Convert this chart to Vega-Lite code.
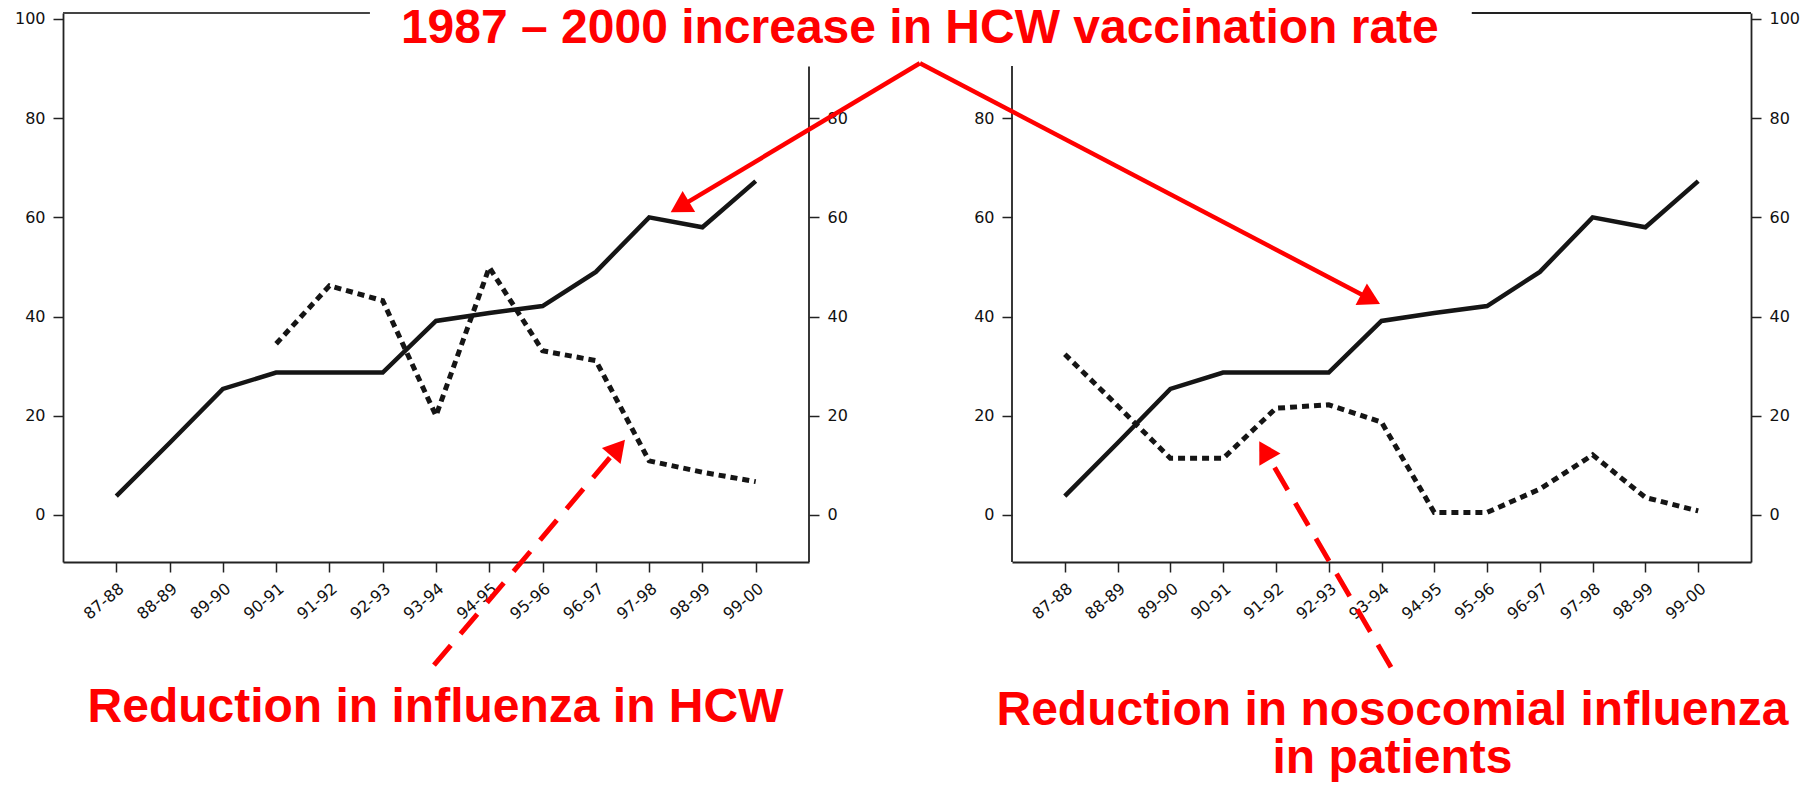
{
  "$schema": "https://vega.github.io/schema/vega-lite/v6.json",
  "background": "white",
  "padding": {"left": 14, "top": 5, "right": 0, "bottom": 0},
  "bounds": "flush",
  "spacing": 203,
  "config": {
    "view": {"stroke": null},
    "axis": {
      "grid": false,
      "labelFont": "DejaVu Sans",
      "labelFontSize": 16,
      "labelColor": "#111111",
      "domainColor": "#222222",
      "domainWidth": 1.8,
      "tickColor": "#222222",
      "tickWidth": 1.5,
      "tickSize": 10,
      "labelPadding": 8
    }
  },
  "datasets": {
    "seasons": [
      {"i": 0, "season": "87-88", "vacc": 3.8, "hcw": null, "pat": 32.4},
      {"i": 1, "season": "88-89", "vacc": 14.5, "hcw": null, "pat": 22.0},
      {"i": 2, "season": "89-90", "vacc": 25.4, "hcw": null, "pat": 11.4},
      {"i": 3, "season": "90-91", "vacc": 28.7, "hcw": 34.5, "pat": 11.4},
      {"i": 4, "season": "91-92", "vacc": 28.7, "hcw": 46.2, "pat": 21.5},
      {"i": 5, "season": "92-93", "vacc": 28.7, "hcw": 43.2, "pat": 22.2},
      {"i": 6, "season": "93-94", "vacc": 39.1, "hcw": 20.0, "pat": 18.7},
      {"i": 7, "season": "94-95", "vacc": 40.7, "hcw": 49.9, "pat": 0.5},
      {"i": 8, "season": "95-96", "vacc": 42.1, "hcw": 33.1, "pat": 0.5},
      {"i": 9, "season": "96-97", "vacc": 49.0, "hcw": 31.1, "pat": 5.2},
      {"i": 10, "season": "97-98", "vacc": 60.0, "hcw": 10.9, "pat": 12.1},
      {"i": 11, "season": "98-99", "vacc": 58.0, "hcw": 8.6, "pat": 3.5},
      {"i": 12, "season": "99-00", "vacc": 67.3, "hcw": 6.7, "pat": 0.8}
    ]
  },
  "hconcat": [
    {
      "width": 746,
      "height": 549,
      "layer": [
        {
          "layer": [
            {
              "data": {"name": "seasons"},
              "mark": {"type": "line", "color": "#151515", "strokeWidth": 4.5},
              "encoding": {
                "x": {
                  "field": "i",
                  "type": "quantitative",
                  "scale": {"domain": [-1, 13], "nice": false, "zero": false},
                  "axis": {
                    "values": [0, 1, 2, 3, 4, 5, 6, 7, 8, 9, 10, 11, 12],
                    "labelExpr": "['87-88','88-89','89-90','90-91','91-92','92-93','93-94','94-95','95-96','96-97','97-98','98-99','99-00'][datum.value]",
                    "labelAngle": -40,
                    "labelAlign": "right",
                    "labelBaseline": "top",
                    "labelOverlap": false,
                    "labelFlush": false,
                    "title": "Reduction in influenza in HCW",
                    "titleFont": "Liberation Sans",
                    "titleFontSize": 48,
                    "titleFontWeight": "bold",
                    "titleColor": "#ff0000",
                    "titleBaseline": "alphabetic",
                    "titleAlign": "center",
                    "titleX": 372,
                    "titleY": 159
                  }
                },
                "y": {
                  "field": "vacc",
                  "type": "quantitative",
                  "scale": {"domain": [-9.5, 101.2], "nice": false, "zero": false},
                  "axis": {"orient": "left", "values": [0, 20, 40, 60, 80, 100], "title": null}
                }
              }
            },
            {
              "data": {"values": [{"x": 13, "y": -9.5, "ye": 90.4}]},
              "mark": {"type": "rule", "color": "#222222", "strokeWidth": 1.8},
              "encoding": {
                "x": {"field": "x", "type": "quantitative"},
                "y": {"field": "y", "type": "quantitative"},
                "y2": {"field": "ye"}
              }
            },
            {
              "data": {"values": [{"x": -1, "xe": 4.76, "y": 101.2}]},
              "mark": {"type": "rule", "color": "#444444", "strokeWidth": 1.8},
              "encoding": {
                "x": {"field": "x", "type": "quantitative"},
                "x2": {"field": "xe"},
                "y": {"field": "y", "type": "quantitative"}
              }
            },
            {
              "data": {"values": [{"x": 15.08, "y": 91.06, "xe": 10.575, "ye": 62.1}]},
              "layer": [
                {
                  "mark": {"type": "rule", "color": "#ff0000", "strokeWidth": 4.5},
                  "encoding": {
                    "x": {"field": "x", "type": "quantitative"},
                    "y": {"field": "y", "type": "quantitative"},
                    "x2": {"field": "xe"},
                    "y2": {"field": "ye"}
                  }
                },
                {
                  "mark": {"type": "point", "shape": "triangle-up", "filled": true, "color": "#ff0000", "opacity": 1, "size": 600, "angle": 239.1},
                  "encoding": {
                    "x": {"field": "xe", "type": "quantitative"},
                    "y": {"field": "ye", "type": "quantitative"}
                  }
                }
              ]
            },
            {
              "data": {"values": [{"x": 5.962, "y": -30.3, "xe": 9.418, "ye": 13.5}]},
              "layer": [
                {
                  "mark": {"type": "rule", "color": "#ff0000", "strokeWidth": 5, "strokeDash": [26, 15]},
                  "encoding": {
                    "x": {"field": "x", "type": "quantitative"},
                    "y": {"field": "y", "type": "quantitative"},
                    "x2": {"field": "xe"},
                    "y2": {"field": "ye"}
                  }
                },
                {
                  "mark": {"type": "point", "shape": "triangle-up", "filled": true, "color": "#ff0000", "opacity": 1, "size": 600, "angle": 40.3},
                  "encoding": {
                    "x": {"field": "xe", "type": "quantitative"},
                    "y": {"field": "ye", "type": "quantitative"}
                  }
                }
              ]
            },
            {
              "data": {"values": [{"label": "1987 – 2000 increase in HCW vaccination rate", "x": 15.08, "y": 95.15}]},
              "mark": {"type": "text", "font": "Liberation Sans", "fontSize": 48, "fontWeight": "bold", "color": "#ff0000", "align": "center", "baseline": "alphabetic"},
              "encoding": {
                "x": {"field": "x", "type": "quantitative"},
                "y": {"field": "y", "type": "quantitative"},
                "text": {"field": "label"}
              }
            }
          ]
        },
        {
          "data": {"name": "seasons"},
          "transform": [{"filter": "isValid(datum.hcw)"}],
          "mark": {"type": "line", "color": "#151515", "strokeWidth": 5, "strokeDash": [7, 5]},
          "encoding": {
            "x": {"field": "i", "type": "quantitative"},
            "y": {
              "field": "hcw",
              "type": "quantitative",
              "scale": {"domain": [-9.5, 101.2], "nice": false, "zero": false},
              "axis": {"orient": "right", "values": [0, 20, 40, 60, 80], "domain": false, "title": null}
            }
          }
        }
      ],
      "resolve": {"scale": {"y": "independent"}}
    },
    {
      "width": 739,
      "height": 549,
      "layer": [
        {
          "layer": [
            {
              "data": {"name": "seasons"},
              "mark": {"type": "line", "color": "#151515", "strokeWidth": 4.5},
              "encoding": {
                "x": {
                  "field": "i",
                  "type": "quantitative",
                  "scale": {"domain": [-1, 13], "nice": false, "zero": false},
                  "axis": {
                    "values": [0, 1, 2, 3, 4, 5, 6, 7, 8, 9, 10, 11, 12],
                    "labelExpr": "['87-88','88-89','89-90','90-91','91-92','92-93','93-94','94-95','95-96','96-97','97-98','98-99','99-00'][datum.value]",
                    "labelAngle": -40,
                    "labelAlign": "right",
                    "labelBaseline": "top",
                    "labelOverlap": false,
                    "labelFlush": false,
                    "title": ["Reduction in nosocomial influenza", "in patients"],
                    "titleFont": "Liberation Sans",
                    "titleFontSize": 48,
                    "titleFontWeight": "bold",
                    "titleColor": "#ff0000",
                    "titleBaseline": "alphabetic",
                    "titleAlign": "center",
                    "titleLineHeight": 48,
                    "titleX": 380,
                    "titleY": 162
                  }
                },
                "y": {
                  "field": "vacc",
                  "type": "quantitative",
                  "scale": {"domain": [-9.5, 101.2], "nice": false, "zero": false},
                  "axis": {"orient": "right", "values": [0, 20, 40, 60, 80, 100], "title": null}
                }
              }
            },
            {
              "data": {"values": [{"x": -1, "y": -9.5, "ye": 90.5}]},
              "mark": {"type": "rule", "color": "#222222", "strokeWidth": 1.8},
              "encoding": {
                "x": {"field": "x", "type": "quantitative"},
                "y": {"field": "y", "type": "quantitative"},
                "y2": {"field": "ye"}
              }
            },
            {
              "data": {"values": [{"x": 7.71, "xe": 13, "y": 101.2}]},
              "mark": {"type": "rule", "color": "#222222", "strokeWidth": 1.8},
              "encoding": {
                "x": {"field": "x", "type": "quantitative"},
                "x2": {"field": "xe"},
                "y": {"field": "y", "type": "quantitative"}
              }
            },
            {
              "data": {"values": [{"x": -2.743, "y": 91.06, "xe": 5.794, "ye": 43.5}]},
              "layer": [
                {
                  "mark": {"type": "rule", "color": "#ff0000", "strokeWidth": 4.5},
                  "encoding": {
                    "x": {"field": "x", "type": "quantitative"},
                    "y": {"field": "y", "type": "quantitative"},
                    "x2": {"field": "xe"},
                    "y2": {"field": "ye"}
                  }
                },
                {
                  "mark": {"type": "point", "shape": "triangle-up", "filled": true, "color": "#ff0000", "opacity": 1, "size": 600, "angle": 117.6},
                  "encoding": {
                    "x": {"field": "xe", "type": "quantitative"},
                    "y": {"field": "ye", "type": "quantitative"}
                  }
                }
              ]
            },
            {
              "data": {"values": [{"x": 6.18, "y": -30.7, "xe": 3.785, "ye": 13.0}]},
              "layer": [
                {
                  "mark": {"type": "rule", "color": "#ff0000", "strokeWidth": 5, "strokeDash": [26, 15]},
                  "encoding": {
                    "x": {"field": "x", "type": "quantitative"},
                    "y": {"field": "y", "type": "quantitative"},
                    "x2": {"field": "xe"},
                    "y2": {"field": "ye"}
                  }
                },
                {
                  "mark": {"type": "point", "shape": "triangle-up", "filled": true, "color": "#ff0000", "opacity": 1, "size": 600, "angle": 329.7},
                  "encoding": {
                    "x": {"field": "xe", "type": "quantitative"},
                    "y": {"field": "ye", "type": "quantitative"}
                  }
                }
              ]
            }
          ]
        },
        {
          "data": {"name": "seasons"},
          "mark": {"type": "line", "color": "#151515", "strokeWidth": 5, "strokeDash": [7, 5]},
          "encoding": {
            "x": {"field": "i", "type": "quantitative"},
            "y": {
              "field": "pat",
              "type": "quantitative",
              "scale": {"domain": [-9.5, 101.2], "nice": false, "zero": false},
              "axis": {"orient": "left", "values": [0, 20, 40, 60, 80], "domain": false, "title": null}
            }
          }
        }
      ],
      "resolve": {"scale": {"y": "independent"}}
    }
  ]
}
